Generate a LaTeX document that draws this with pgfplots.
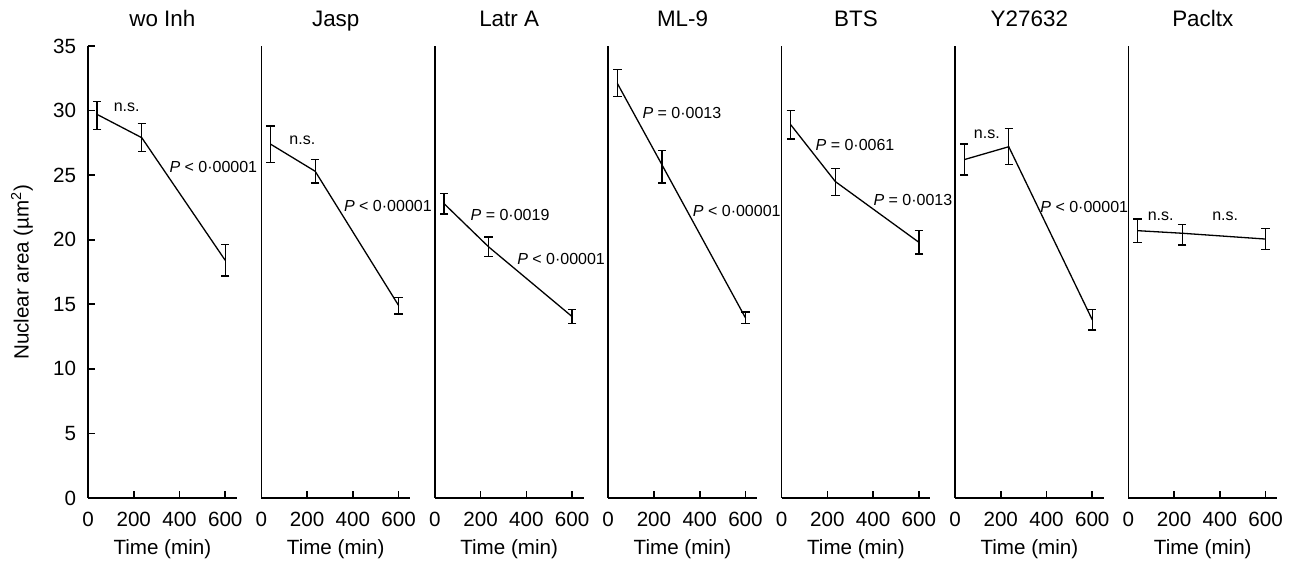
\documentclass[border=0pt]{standalone}
\usepackage{fontspec}
\setmainfont{Liberation Sans}
\usepackage{pgfplots}
\pgfplotsset{compat=1.18}

\newcommand{\ann}{\fontsize{8}{9}\selectfont}
\pgfplotsset{
  panel/.style={
    scale only axis, width=74.35pt, height=226pt,
    xmin=0, xmax=650, ymin=0, ymax=35,
    axis x line*=bottom, axis y line*=left,
    axis line style={line width=0.8pt, black},
    xtick={0,200,400,600},
    tick align=inside, major tick length=3.6pt,
    tick style={line width=0.8pt, black},
    ticklabel style={font=\fontsize{10.3}{12}\selectfont},
    xticklabel style={anchor=base, yshift=-14.3pt},
    yticklabel style={anchor=east, xshift=-2.4pt},
    /pgf/number format/assume math mode=true,
    clip=false,
    xlabel={Time (min)},
    every axis x label/.style={at={(axis description cs:0.5,0)}, anchor=base,
      yshift=-28pt, font=\fontsize{10.3}{12}\selectfont},
    every axis title/.style={at={(axis description cs:0.5,1)}, anchor=base,
      yshift=9.5pt, font=\fontsize{11.2}{13}\selectfont},
  },
  ser/.style={black, line width=0.65pt, mark=none,
    error bars/.cd, y dir=both, y explicit,
    error bar style={line width=0.65pt, black},
    error mark options={rotate=90, mark size=2.1pt, line width=0.65pt, black}},
}

\begin{document}
\begin{tikzpicture}
\useasboundingbox (-44pt,-31.5pt) rectangle (603pt,249pt);

% wo Inh
\begin{axis}[panel, at={(0pt,0pt)}, title={wo Inh},
  ytick={0,5,10,15,20,25,30,35},
  ylabel={Nuclear area (µm\textsuperscript{2})},
  every axis y label/.style={at={(axis description cs:-0.444,0.5)}, anchor=center,
    rotate=90, font=\fontsize{10.3}{12}\selectfont}]
\addplot[ser] table[x=t, y=m, y error plus=ep, y error minus=em] {
t m ep em
40 29.7 1.0 1.15
235 27.9 1.1 1.05
600 18.4 1.25 1.2
};
\node[font=\ann] at (axis cs:169,30.25) {n.s.};
\node[font=\ann] at (axis cs:548,25.65) {\textit{P} < 0·00001};
\end{axis}

% Jasp
\begin{axis}[panel, at={(86.7pt,0pt)}, title={Jasp}, ytick=\empty]
\addplot[ser] table[x=t, y=m, y error plus=ep, y error minus=em] {
t m ep em
40 27.4 1.4 1.4
235 25.3 0.9 0.9
600 14.9 0.6 0.65
};
\node[font=\ann] at (axis cs:179,27.7) {n.s.};
\node[font=\ann] at (axis cs:553,22.6) {\textit{P} < 0·00001};
\end{axis}

% Latr A
\begin{axis}[panel, at={(173.4pt,0pt)}, title={Latr A}, ytick=\empty]
\addplot[ser] table[x=t, y=m, y error plus=ep, y error minus=em] {
t m ep em
40 22.8 0.8 0.8
235 19.45 0.75 0.75
600 14.05 0.55 0.55
};
\node[font=\ann] at (axis cs:329,21.9) {\textit{P} = 0·0019};
\node[font=\ann] at (axis cs:552,18.5) {\textit{P} < 0·00001};
\end{axis}

% ML-9
\begin{axis}[panel, at={(260.1pt,0pt)}, title={ML-9}, ytick=\empty]
\addplot[ser] table[x=t, y=m, y error plus=ep, y error minus=em] {
t m ep em
40 32.1 1.1 1.0
235 25.8 1.1 1.4
600 13.95 0.45 0.45
};
\node[font=\ann] at (axis cs:322,29.8) {\textit{P} = 0·0013};
\node[font=\ann] at (axis cs:562,22.25) {\textit{P} < 0·00001};
\end{axis}

% BTS
\begin{axis}[panel, at={(346.8pt,0pt)}, title={BTS}, ytick=\empty]
\addplot[ser] table[x=t, y=m, y error plus=ep, y error minus=em] {
t m ep em
40 28.9 1.1 1.1
235 24.5 1.0 1.1
600 19.8 0.9 0.9
};
\node[font=\ann] at (axis cs:321,27.3) {\textit{P} = 0·0061};
\node[font=\ann] at (axis cs:574,23.1) {\textit{P} = 0·0013};
\end{axis}

% Y27632
\begin{axis}[panel, at={(433.5pt,0pt)}, title={Y27632}, ytick=\empty]
\addplot[ser] table[x=t, y=m, y error plus=ep, y error minus=em] {
t m ep em
40 26.2 1.2 1.2
235 27.2 1.4 1.35
600 13.8 0.8 0.8
};
\node[font=\ann] at (axis cs:139,28.2) {n.s.};
\node[font=\ann] at (axis cs:565,22.5) {\textit{P} < 0·00001};
\end{axis}

% Pacltx
\begin{axis}[panel, at={(520.2pt,0pt)}, title={Pacltx}, ytick=\empty]
\addplot[ser] table[x=t, y=m, y error plus=ep, y error minus=em] {
t m ep em
40 20.7 0.9 0.9
235 20.5 0.7 0.9
600 20.05 0.8 0.8
};
\node[font=\ann] at (axis cs:141,21.8) {n.s.};
\node[font=\ann] at (axis cs:423,21.8) {n.s.};
\end{axis}
\end{tikzpicture}
\end{document}
